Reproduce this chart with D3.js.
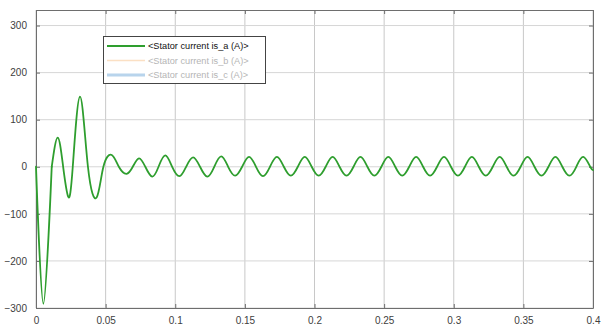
<!DOCTYPE html>
<html>
<head>
<meta charset="utf-8">
<script src="https://d3js.org/d3.v7.min.js"></script>
<style>
body { margin: 0; background: #fff; }
text { font-family: "Liberation Sans", Arial, sans-serif; }
</style>
</head>
<body>
<div id="chart"></div>
<script>
// time (s) and stator current is_a (A)
var time = [0, 0.0053, 0.0113, 0.0156, 0.0195, 0.0232, 0.0264, 0.0316, 0.0373, 0.0436, 0.0484, 0.0544,
  0.0595, 0.0650, 0.0695, 0.0740, 0.0785, 0.0835, 0.0880, 0.0928, 0.0978, 0.1030, 0.1078, 0.1128,
  0.1178, 0.1230, 0.1280, 0.1330, 0.1380, 0.1430, 0.1480, 0.1530, 0.1580, 0.1630, 0.1680, 0.1730,
  0.1780, 0.1830, 0.1880, 0.1930, 0.1980, 0.2030, 0.2080, 0.2130, 0.2180, 0.2230, 0.2280, 0.2330,
  0.2380, 0.2430, 0.2480, 0.2530, 0.2580, 0.2630, 0.2680, 0.2730, 0.2780, 0.2830, 0.2880, 0.2930,
  0.2980, 0.3030, 0.3080, 0.3130, 0.3180, 0.3230, 0.3280, 0.3330, 0.3380, 0.3430, 0.3480, 0.3530,
  0.3580, 0.3630, 0.3680, 0.3730, 0.3780, 0.3830, 0.3880, 0.3930, 0.3980, 0.4];
var isA = [0, -291, 0, 62, 0, -64, 0, 149, 0, -65, 0, 25,
  0, -15, 0, 18, 0, -21, 0, 24, 0, -20, 0, 20,
  0, -21, 0, 22, 0, -19, 0, 21, 0, -20, 0, 21,
  0, -19, 0, 21, 0, -19, 0, 21, 0, -19, 0, 21,
  0, -19, 0, 21, 0, -19, 0, 21, 0, -19, 0, 21,
  0, -19, 0, 21, 0, -19, 0, 21, 0, -19, 0, 21,
  0, -19, 0, 21, 0, -19, 0, 21, 0, -7];

var xTicks = [0, 0.05, 0.1, 0.15, 0.2, 0.25, 0.3, 0.35, 0.4];
var xTickLabels = ['0', '0.05', '0.1', '0.15', '0.2', '0.25', '0.3', '0.35', '0.4'];
var yTicks = [-300, -200, -100, 0, 100, 200, 300];

var legendNames = ['<Stator current is_a (A)>', '<Stator current is_b (A)>', '<Stator current is_c (A)>'];
var legendColors = ['#2e9e2e', '#fbe0c4', '#b8d4ec'];
var legendWidths = [1.8, 1.6, 3];
var legendText = ['#111', '#b5b5b5', '#b5b5b5'];

var W = 602, H = 326;
var pLeft = 36, pRight = 593, pTop = 10, pBottom = 308;

var svg = d3.select('#chart').append('svg')
  .attr('width', W).attr('height', H);

var x = d3.scaleLinear().domain([0, 0.4]).range([pLeft, pRight]);
var y = d3.scaleLinear().domain([-300, 333]).range([pBottom, pTop]);

// grid
svg.append('g').selectAll('line').data(xTicks).enter().append('line')
  .attr('x1', d => x(d)).attr('x2', d => x(d))
  .attr('y1', pTop).attr('y2', pBottom)
  .attr('stroke', '#c8c8c8').attr('stroke-width', 1);
svg.append('g').selectAll('line').data(yTicks).enter().append('line')
  .attr('x1', pLeft).attr('x2', pRight)
  .attr('y1', d => y(d)).attr('y2', d => y(d))
  .attr('stroke', '#d6d6d6').attr('stroke-width', 1);

// axes with inner ticks
var fmtX = function(d, i) { return xTickLabels[i]; };
svg.append('g').attr('class', 'ax')
  .attr('transform', 'translate(0,' + pBottom + ')')
  .call(d3.axisBottom(x).tickValues(xTicks).tickFormat(fmtX).tickSizeInner(-4).tickSizeOuter(0).tickPadding(9));
svg.append('g').attr('class', 'ax')
  .attr('transform', 'translate(0,' + pTop + ')')
  .call(d3.axisTop(x).tickValues(xTicks).tickFormat('').tickSizeInner(-4).tickSizeOuter(0));
svg.append('g').attr('class', 'ax')
  .attr('transform', 'translate(' + pLeft + ',0)')
  .call(d3.axisLeft(y).tickValues(yTicks).tickSizeInner(-4).tickSizeOuter(0).tickPadding(9));
svg.append('g').attr('class', 'ax')
  .attr('transform', 'translate(' + pRight + ',0)')
  .call(d3.axisRight(y).tickValues(yTicks).tickFormat('').tickSizeInner(-4).tickSizeOuter(0));

svg.selectAll('.ax path').attr('stroke', '#6e6e6e');
svg.selectAll('.ax line').attr('stroke', '#6e6e6e');
svg.selectAll('.ax text').attr('fill', '#404040')
  .style('font-size', '10px').style('font-family', '"Liberation Sans", Arial, sans-serif');

// signal: first dip with catmull-rom (no overshoot), the rest with a natural spline
var pts = time.map(function(t, i) { return [t, isA[i]]; });
var lineStart = d3.line()
  .x(d => x(d[0])).y(d => y(d[1]))
  .curve(d3.curveCatmullRom.alpha(0.5));
var lineSteady = d3.line()
  .x(d => x(d[0])).y(d => y(d[1]))
  .curve(d3.curveNatural);
[[lineStart, pts.slice(0, 3)], [lineSteady, pts.slice(2)]].forEach(function(p) {
  svg.append('path').datum(p[1])
    .attr('d', p[0])
    .attr('fill', 'none')
    .attr('stroke', legendColors[0])
    .attr('stroke-width', 1.8)
    .attr('stroke-linecap', 'round');
});

// legend
var lg = svg.append('g').attr('transform', 'translate(103,36)');
lg.append('rect').attr('x', 0.5).attr('y', 0.5).attr('width', 162).attr('height', 47)
  .attr('fill', '#fff').attr('stroke', '#444').attr('stroke-width', 1);
legendNames.forEach(function(name, i) {
  var cy = 10 + i * 14.5;
  lg.append('line').attr('x1', 4).attr('x2', 42).attr('y1', cy).attr('y2', cy)
    .attr('stroke', legendColors[i]).attr('stroke-width', legendWidths[i]);
  lg.append('text').attr('x', 45).attr('y', cy).attr('dy', '0.35em')
    .attr('fill', legendText[i]).style('font-size', '9.2px')
    .text(name);
});
</script>
</body>
</html>
